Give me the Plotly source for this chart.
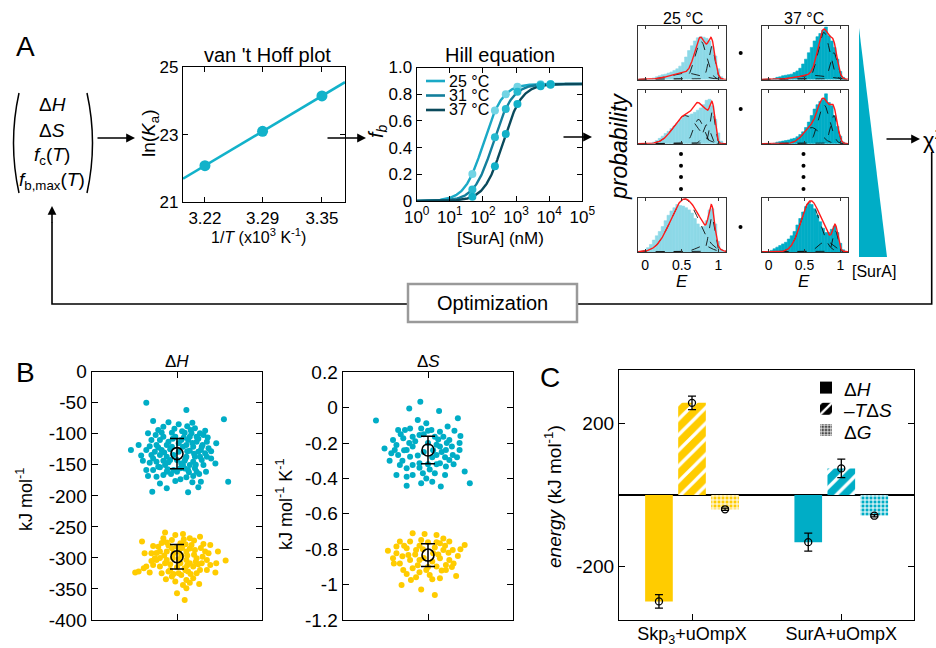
import numpy as np
import plotly.graph_objects as go

W, H = 936, 648
FONT = "Liberation Sans, Arial, Helvetica, sans-serif"
CYAN = "#00adc6"
LIGHT_CYAN = "#8dd9e7"
YELLOW = "#ffcc00"

# ---------------- data ----------------
# van 't Hoff
vh_invT = [3.224, 3.288, 3.354]
vh_invT_labels = ["3.22", "3.29", "3.35"]
vh_lnKa = [22.08, 23.10, 24.15]
VH_XRANGE = [3.1996, 3.3796]

# Hill equation
hill_conc = [48, 230, 490, 1100, 5500, 11000]
hill_fb_25 = [0.202, 0.677, 0.800, 0.856, 0.874, 0.876]
hill_fb_31 = [0.087, 0.477, 0.689, 0.819, 0.869, 0.874]
hill_fb_37 = [0.032, 0.260, 0.502, 0.727, 0.860, 0.870]
hill_temps = ["25 °C", "31 °C", "37 °C"]
hill_K = [105, 205, 403]
hill_n = [1.53, 1.52, 1.54]
hill_fmax = 0.877
hill_line_colors = ["#1aa9c6", "#137f9c", "#0a4a5c"]
hill_pt_colors = ["#72d4e4", "#25b9cf", "#12b0c8"]

# FRET efficiency histograms (bin centres, normalised heights)
hist_E = [0.00, 0.04, 0.08, 0.12, 0.16, 0.20, 0.24, 0.28, 0.32, 0.36, 0.40, 0.44, 0.48, 0.52,
          0.56, 0.60, 0.64, 0.68, 0.72, 0.76, 0.80, 0.84, 0.88, 0.92, 0.96, 1.00, 1.04, 1.08]
h25_top = [0, 0, 0.01, 0.03, 0.05, 0.07, 0.09, 0.1, 0.12, 0.14, 0.17, 0.2, 0.25, 0.32,
           0.42, 0.54, 0.63, 0.72, 0.78, 0.8, 0.79, 0.77, 0.72, 0.62, 0.44, 0.2, 0.05, 0]
h25_mid = [0, 0, 0.01, 0.03, 0.06, 0.1, 0.14, 0.19, 0.23, 0.28, 0.33, 0.38, 0.44, 0.49,
           0.52, 0.53, 0.55, 0.58, 0.62, 0.66, 0.72, 0.8, 0.82, 0.7, 0.45, 0.2, 0.05, 0]
h25_bot = [0.03, 0.08, 0.14, 0.22, 0.3, 0.38, 0.47, 0.58, 0.68, 0.76, 0.82, 0.88, 0.86, 0.85,
           0.82, 0.78, 0.72, 0.62, 0.52, 0.46, 0.47, 0.58, 0.78, 0.8, 0.52, 0.2, 0.05, 0]
h37_top = [0, 0, 0.02, 0.04, 0.05, 0.07, 0.08, 0.09, 0.1, 0.13, 0.16, 0.21, 0.29, 0.38,
           0.5, 0.6, 0.72, 0.8, 0.86, 0.92, 0.98, 0.82, 0.72, 0.6, 0.38, 0.15, 0.04, 0]
h37_mid = [0, 0, 0.01, 0.03, 0.04, 0.05, 0.06, 0.07, 0.09, 0.1, 0.13, 0.17, 0.22, 0.3,
           0.4, 0.52, 0.64, 0.72, 0.78, 0.82, 0.92, 0.76, 0.7, 0.52, 0.32, 0.14, 0.03, 0]
h37_bot = [0.01, 0.03, 0.06, 0.09, 0.12, 0.15, 0.18, 0.24, 0.3, 0.38, 0.5, 0.62, 0.74, 0.84,
           0.9, 0.88, 0.8, 0.68, 0.56, 0.44, 0.36, 0.36, 0.42, 0.48, 0.36, 0.16, 0.04, 0]
# Gaussian fit components: amplitudes, centres, widths
g25_top_amp, g25_top_mu, g25_top_sd = [0.12, 0.72, 0.62], [0.55, 0.76, 0.91], [0.2, 0.08, 0.045]
g25_mid_amp, g25_mid_mu, g25_mid_sd = [0.52, 0.45, 0.35, 0.62], [0.55, 0.73, 0.84, 0.92], [0.16, 0.07, 0.05, 0.035]
g25_bot_amp, g25_bot_mu, g25_bot_sd = [0.98, 0.12, 0.66], [0.54, 0.8, 0.91], [0.19, 0.1, 0.04]
g37_top_amp, g37_top_mu, g37_top_sd = [0.08, 0.88, 0.5], [0.6, 0.77, 0.91], [0.2, 0.08, 0.05]
g37_mid_amp, g37_mid_mu, g37_mid_sd = [0.3, 0.72, 0.52], [0.6, 0.77, 0.91], [0.12, 0.08, 0.05]
g37_bot_amp, g37_bot_mu, g37_bot_sd = [0.93, 0.2, 0.4], [0.58, 0.8, 0.93], [0.13, 0.1, 0.035]

# Panel B bootstrap clouds (jitter, value)
dH_SurA_pts = [(-0.36, -49.9), (0.11, -61.7), (0.55, -76.8), (-0.28, -79.4), (-0.10, -81.6), (0.18, -82.1),
    (0.02, -84.8), (-0.16, -88.6), (-0.22, -94.0), (-0.34, -99.3), (-0.06, -98.2), (0.09, -98.2), (0.21, -91.3),
    (0.27, -99.3), (-0.25, -102), (-0.16, -104.7), (-0.02, -104.7), (0.15, -104.7), (0.31, -102), (-0.30, -110),
    (-0.20, -110), (-0.10, -112.7), (0.05, -110), (0.23, -112.7), (0.35, -112.7), (0.46, -115.4), (-0.24, -118.1),
    (-0.12, -118.1), (0.11, -118.1), (0.19, -120.8), (0.29, -120.8), (0.37, -123.5), (-0.54, -126.2), (-0.36, -126.2),
    (-0.26, -128.8), (-0.18, -126.2), (-0.08, -125.1), (0.15, -127.2), (0.25, -128.8), (0.33, -131.5), (-0.30, -134.2),
    (-0.20, -134.2), (-0.12, -136.9), (0.11, -136.9), (0.21, -136.9), (0.35, -136.9), (-0.40, -143.3), (-0.32, -146.6),
    (-0.24, -145), (-0.16, -143.3), (-0.08, -142.3), (0.09, -143.3), (0.19, -145), (0.29, -142.3), (-0.36, -158.4),
    (-0.28, -158.4), (-0.20, -154), (-0.12, -161), (-0.04, -158.4), (0.04, -155.7), (0.13, -158.4), (0.23, -161),
    (0.34, -161), (-0.34, -168), (-0.24, -169.1), (-0.16, -166.4), (0.04, -173.4), (0.11, -170.2), (0.19, -168),
    (0.28, -177.2), (0.60, -177.2), (-0.12, -187.9), (-0.29, -193.3), (0.13, -194.4), (0.25, -186.3), (0.0, -161),
    (0.07, -150.3), (-0.22, -153), (0.02, -128.8), (-0.04, -134.2), (0.17, -99.3), (0.23, -104.7), (0.13, -110),
    (0.02, -115.4), (-0.06, -120.8), (0.07, -120.8), (0.27, -136.9), (0.0, -142.3), (-0.14, -150.3), (0.15, -150.3),
    (0.31, -150.3), (0.21, -155.7), (-0.05, -108), (0.08, -106), (0.18, -115), (-0.15, -130), (0.12, -128),
    (0.28, -126), (-0.1, -146), (0.05, -148), (0.2, -132), (0.1, -140), (-0.22, -122), (-0.03, -92), (0.3, -118),
    (0.14, -162), (-0.07, -165), (0.25, -108), (0.4, -140), (0.4, -128), (-0.42, -135), (-0.45, -118), (0.06, -96),
    (-0.18, -98), (0.33, -95), (0.12, -88), (-0.28, -140), (0.22, -150), (-0.02, -176), (0.18, -178), (-0.2, -180),
    (0.45, -148), (0.09, -156), (-0.11, -157), (0.26, -165), (-0.32, -120), (0.36, -106), (0.16, -94)]
dH_Skp_pts = [(-0.14, -259.2), (0.07, -261.4), (-0.41, -273.7), (-0.28, -280.7), (-0.16, -268.3), (-0.06, -271),
    (0.15, -268.3), (0.27, -265.7), (0.04, -276.4), (0.17, -279.1), (0.31, -277.5), (0.39, -279.1), (-0.38, -292.5),
    (-0.30, -292.5), (-0.20, -289.8), (0.11, -289.8), (0.21, -287.1), (0.33, -289.8), (0.48, -289.8), (-0.24, -303.2),
    (-0.12, -303.2), (0.11, -303.2), (0.23, -300.6), (0.35, -303.2), (-0.36, -314), (-0.28, -311.3), (-0.20, -314),
    (-0.14, -308.6), (0.15, -308.6), (0.29, -308.6), (0.39, -311.3), (0.46, -308.6), (0.57, -304.3), (-0.49, -323.6),
    (-0.39, -316.7), (-0.32, -323.6), (-0.08, -319.3), (0.02, -324.7), (0.13, -322), (0.27, -319.3), (0.35, -319.3),
    (0.45, -323.6), (-0.06, -330.1), (0.05, -327.4), (0.11, -335.5), (0.19, -332.8), (-0.13, -334.4), (-0.02, -338.1),
    (0.07, -343.5), (0.15, -339.8), (0.26, -341.9), (0.11, -348.9), (0.0, -356.9), (0.09, -367.7), (-0.45, -322),
    (-0.26, -300.6), (-0.04, -292.5), (0.04, -308.6), (0.09, -316.7), (-0.18, -324.7), (0.23, -324.7), (-0.06, -284.4),
    (0.02, -289.8), (-0.12, -289.8), (0.19, -314), (-0.22, -281.8), (0.37, -292.5), (-0.1, -280), (0.0, -282),
    (0.1, -278), (0.2, -295), (-0.05, -300), (0.05, -296), (0.15, -285), (-0.15, -296), (0.25, -310), (-0.08, -310),
    (0.0, -315), (0.12, -296), (-0.18, -276), (0.08, -270), (0.3, -298), (-0.02, -263), (0.2, -272), (-0.3, -305),
    (0.16, -326), (-0.1, -322), (0.06, -284), (-0.24, -292), (0.28, -284), (0.02, -302), (-0.04, -326), (0.12, -312),
    (0.22, -306), (-0.12, -275), (0.1, -320), (-0.2, -300)]
dS_SurA_pts = [(-0.09, 0.034), (-0.22, -0.004), (-0.61, -0.073), (0.35, -0.06), (0.13, -0.019), (-0.12, -0.07),
    (-0.02, -0.088), (-0.35, -0.126), (-0.27, -0.126), (-0.21, -0.117), (-0.08, -0.117), (0.04, -0.126), (0.14, -0.136),
    (0.23, -0.107), (0.31, -0.13), (-0.51, -0.23), (-0.41, -0.183), (-0.37, -0.211), (-0.29, -0.173), (-0.18, -0.164),
    (-0.10, -0.154), (0.08, -0.164), (0.18, -0.164), (0.25, -0.183), (0.37, -0.239), (-0.43, -0.258), (-0.35, -0.267),
    (-0.25, -0.239), (-0.18, -0.22), (0.14, -0.22), (0.21, -0.239), (0.29, -0.267), (-0.33, -0.324), (-0.25, -0.343),
    (-0.18, -0.324), (-0.10, -0.314), (0.14, -0.314), (0.25, -0.296), (-0.37, -0.38), (-0.25, -0.39), (-0.08, -0.427),
    (0.05, -0.418), (0.15, -0.446), (0.43, -0.361), (0.49, -0.427), (-0.39, -0.239), (-0.21, -0.277), (0.10, -0.267),
    (0.21, -0.333), (0.37, -0.2), (-0.18, -0.38), (-0.25, -0.441), (-0.06, -0.371), (0.08, -0.371), (0.0, -0.2),
    (0.1, -0.21), (-0.05, -0.25), (0.05, -0.28), (0.2, -0.28), (-0.12, -0.27), (0.0, -0.32), (-0.3, -0.3), (0.3, -0.32),
    (0.12, -0.18), (-0.15, -0.19), (0.28, -0.22), (-0.05, -0.15), (0.06, -0.24), (0.16, -0.25), (-0.22, -0.2),
    (0.34, -0.28), (-0.45, -0.3), (0.02, -0.35), (-0.28, -0.24), (0.22, -0.2), (-0.1, -0.34), (0.1, -0.32),
    (0.0, -0.13), (0.38, -0.16), (-0.02, -0.4), (0.2, -0.38), (-0.32, -0.15)]
dS_Skp_pts = [(-0.18, -0.71), (-0.04, -0.714), (0.10, -0.719), (-0.33, -0.757), (-0.21, -0.757), (-0.08, -0.748),
    (0.14, -0.766), (0.25, -0.757), (-0.47, -0.808), (-0.37, -0.823), (-0.25, -0.795), (-0.14, -0.804), (0.18, -0.804),
    (0.29, -0.804), (0.43, -0.776), (-0.41, -0.851), (-0.33, -0.88), (-0.21, -0.861), (-0.10, -0.861), (0.14, -0.851),
    (0.25, -0.861), (0.35, -0.838), (-0.29, -0.917), (-0.18, -0.908), (-0.02, -0.917), (0.10, -0.898), (0.21, -0.917),
    (0.33, -0.951), (-0.31, -1.002), (-0.20, -0.974), (-0.08, -1.027), (0.02, -0.945), (0.14, -0.964), (0.08, -1.059),
    (-0.14, -0.959), (-0.23, -0.833), (0.06, -0.823), (-0.37, -0.785), (0.21, -0.889), (0.0, -0.76), (-0.1, -0.78),
    (0.08, -0.79), (-0.05, -0.85), (0.05, -0.87), (0.2, -0.78), (-0.15, -0.83), (0.12, -0.83), (-0.28, -0.78),
    (0.3, -0.88), (0.0, -0.9), (-0.12, -0.89), (0.16, -0.92), (-0.25, -0.94), (0.24, -0.82), (-0.06, -0.8),
    (0.1, -0.76), (0.38, -0.8), (-0.4, -0.88), (0.05, -0.97), (-0.1, -0.93), (0.18, -0.74), (-0.3, -0.84), (0.28, -0.9)]
dH_means, dH_errs = [-132, -298], [24.5, 19.7]   # SurA, Skp
dS_means, dS_errs = [-0.239, -0.833], [0.078, 0.064]

# Panel C
c_groups = ["Skp<sub>3</sub>+uOmpX", "SurA+uOmpX"]
c_colors = [YELLOW, CYAN]
c_dH, c_dH_err = [-298, -132], [19, 25]
c_TdS, c_TdS_err = [258, 74.5], [19, 26]
c_dG, c_dG_err = [-40, -58], [3, 3]
c_names = ["Δ<i>H</i>", "–<i>T</i>Δ<i>S</i>", "Δ<i>G</i>"]

# ---------------- helpers ----------------
def px(x):
    return x / W

def py(y):
    return 1 - y / H

def dom(x0, x1, y0, y1):
    return [px(x0), px(x1)], [py(y1), py(y0)]

def xid(i):
    return "x" if i == 1 else f"x{i}"

def yid(i):
    return "y" if i == 1 else f"y{i}"

def key(c, i):
    return f"{c}axis" if i == 1 else f"{c}axis{i}"

def axstyle(**kw):
    d = dict(showline=True, linecolor="black", linewidth=1.3, mirror="ticks", ticks="inside",
             ticklen=5, tickwidth=1.2, tickcolor="black", showgrid=False, zeroline=False, automargin=False,
             tickfont=dict(family=FONT, size=17, color="black"))
    d.update(kw)
    return d

fig = go.Figure()
layout = {}
annotations = []
shapes = []

def add_axes(i, xd, yd, xkw, ykw):
    xdom, ydom = dom(*xd, *yd)
    layout[key("x", i)] = axstyle(domain=xdom, anchor=yid(i), **xkw)
    layout[key("y", i)] = axstyle(domain=ydom, anchor=xid(i), **ykw)

def text(x, y, s, size, angle=0, xanchor="center", color="black"):
    annotations.append(dict(x=px(x), y=py(y), xref="paper", yref="paper", text=s, showarrow=False,
                            font=dict(family=FONT, size=size, color=color), textangle=angle,
                            xanchor=xanchor, yanchor="middle"))

def arrow(x0, y0, x1, y1):
    annotations.append(dict(x=px(x1), y=py(y1), xref="paper", yref="paper", ax=x0 - x1, ay=y0 - y1,
                            axref="pixel", ayref="pixel", text="", showarrow=True, arrowhead=2,
                            arrowsize=1.1, arrowwidth=1.6, arrowcolor="black", standoff=0))

def pth(points, close=False):
    s = "M " + " L ".join(f"{px(a):.5f},{py(b):.5f}" for a, b in points)
    return s + (" Z" if close else "")

# ---------------- van 't Hoff ----------------
add_axes(1, (183, 345), (67.3, 202),
         dict(range=VH_XRANGE, tickvals=vh_invT, ticktext=vh_invT_labels),
         dict(range=[21, 25], tickvals=[21, 23, 25], ticktext=["21", "23", "25"]))
slope, icpt = np.polyfit(vh_invT, vh_lnKa, 1)
vx = np.array(VH_XRANGE)
fig.add_trace(go.Scatter(x=vx, y=slope * vx + icpt, mode="lines", line=dict(color="#12b2ca", width=2.6),
                         xaxis="x", yaxis="y", showlegend=False, cliponaxis=True))
fig.add_trace(go.Scatter(x=vh_invT, y=vh_lnKa, mode="markers", marker=dict(color="#12b2ca", size=11),
                         xaxis="x", yaxis="y", showlegend=False))

# ---------------- Hill ----------------
add_axes(2, (416.7, 582.3), (67.5, 201),
         dict(type="log", range=[0, 5], tickvals=[1, 10, 100, 1e3, 1e4, 1e5],
              ticktext=[f"10<sup>{k}</sup>" for k in range(6)]),
         dict(range=[0, 1], tickvals=[0, 0.2, 0.4, 0.6, 0.8, 1.0],
              ticktext=["0", "0.2", "0.4", "0.6", "0.8", "1.0"]))
cfine = np.logspace(0, 5, 250)
for k, fb in enumerate([hill_fb_25, hill_fb_31, hill_fb_37]):
    n, K = hill_n[k], hill_K[k]
    fig.add_trace(go.Scatter(x=cfine, y=hill_fmax * cfine ** n / (K ** n + cfine ** n), mode="lines",
                             line=dict(color=hill_line_colors[k], width=2.4), xaxis="x2", yaxis="y2",
                             showlegend=False))
for k, fb in enumerate([hill_fb_25, hill_fb_31, hill_fb_37]):
    fig.add_trace(go.Scatter(x=hill_conc, y=fb, mode="markers", marker=dict(color=hill_pt_colors[k], size=8),
                             xaxis="x2", yaxis="y2", showlegend=False))
for k, t in enumerate(hill_temps):
    yy = [81, 95.5, 110][k]
    shapes.append(dict(type="line", xref="paper", yref="paper", x0=px(426), x1=px(445), y0=py(yy), y1=py(yy),
                       line=dict(color=hill_line_colors[k], width=2.6)))
    text(447, yy, t, 16, xanchor="left")

# ---------------- histograms ----------------
E_fine = np.linspace(-0.1, 1.12, 300)
cols = {25: (638.3, 726, [-0.092, 1.105], LIGHT_CYAN), 37: (761.5, 848, [-0.1, 1.107], CYAN)}
rows = [(26, 79.5), (89.5, 143.8), (198, 252)]
panels = [
    (3, 25, 0, h25_top, g25_top_amp, g25_top_mu, g25_top_sd),
    (4, 25, 1, h25_mid, g25_mid_amp, g25_mid_mu, g25_mid_sd),
    (5, 25, 2, h25_bot, g25_bot_amp, g25_bot_mu, g25_bot_sd),
    (6, 37, 0, h37_top, g37_top_amp, g37_top_mu, g37_top_sd),
    (7, 37, 1, h37_mid, g37_mid_amp, g37_mid_mu, g37_mid_sd),
    (8, 37, 2, h37_bot, g37_bot_amp, g37_bot_mu, g37_bot_sd),
]
for i, temp, r, hv, amps, mus, sds in panels:
    x0, x1, xr, colr = cols[temp]
    y0, y1 = rows[r]
    add_axes(i, (x0, x1), (y0, y1),
             dict(range=xr, tickvals=[0, 0.5, 1], ticktext=["0", "0.5", "1"], ticklen=3,
                  showticklabels=(r == 2), linewidth=1, linecolor="#333", tickcolor="#333",
                  tickfont=dict(family=FONT, size=14, color="black")),
             dict(range=[0, 1.0], showticklabels=False, ticks="", linewidth=1, linecolor="#333",
                  mirror=True))
    fig.add_trace(go.Bar(x=hist_E, y=hv, width=0.04, marker=dict(color=colr, line=dict(width=0.6, color=colr)),
                         xaxis=xid(i), yaxis=yid(i), showlegend=False))
    total = np.zeros_like(E_fine)
    for a, m, s in zip(amps, mus, sds):
        comp = a * np.exp(-0.5 * ((E_fine - m) / s) ** 2)
        total += comp
        fig.add_trace(go.Scatter(x=E_fine, y=comp, mode="lines", line=dict(color="#111", width=0.9, dash="dash"),
                                 xaxis=xid(i), yaxis=yid(i), showlegend=False))
    fig.add_trace(go.Scatter(x=E_fine, y=total, mode="lines", line=dict(color="#ff1a1a", width=1.4),
                             xaxis=xid(i), yaxis=yid(i), showlegend=False))

# ---------------- panel B ----------------
add_axes(9, (91.7, 262.3), (371.7, 620),
         dict(range=[-1, 1], tickvals=[0], showticklabels=False, ticklen=6),
         dict(range=[-400, 0], tickvals=list(range(0, -401, -50)),
              ticktext=[str(v) for v in range(0, -401, -50)], ticklen=6,
              tickfont=dict(family=FONT, size=19, color="black")))
add_axes(10, (342.7, 513.3), (372.3, 620),
         dict(range=[-1, 1], tickvals=[0], showticklabels=False, ticklen=6),
         dict(range=[-1.2, 0.2], tickvals=[0.2, 0, -0.2, -0.4, -0.6, -0.8, -1, -1.2],
              ticktext=["0.2", "0", "-0.2", "-0.4", "-0.6", "-0.8", "-1", "-1.2"], ticklen=6,
              tickfont=dict(family=FONT, size=19, color="black")))
for i, pts_list, means, errs in [(9, [dH_SurA_pts, dH_Skp_pts], dH_means, dH_errs),
                                 (10, [dS_SurA_pts, dS_Skp_pts], dS_means, dS_errs)]:
    for pts, colr in zip(pts_list, [CYAN, YELLOW]):
        fig.add_trace(go.Scatter(x=[p[0] for p in pts], y=[p[1] for p in pts], mode="markers",
                                 marker=dict(color=colr, size=6), xaxis=xid(i), yaxis=yid(i), showlegend=False))
    fig.add_trace(go.Scatter(x=[0, 0], y=means, mode="markers",
                             marker=dict(symbol="circle-open", size=12, color="black", line=dict(width=1.6)),
                             error_y=dict(type="data", array=errs, color="black", thickness=1.5, width=7),
                             xaxis=xid(i), yaxis=yid(i), showlegend=False))

# ---------------- panel C ----------------
BAR_GAP, BAR_GROUP_GAP = 0.336, 0.163
add_axes(11, (619, 914.3), (370, 620),
         dict(range=[-0.489, 1.489], tickvals=[0, 1], ticktext=c_groups, mirror=True, ticklen=6,
              ticklabelstandoff=-3, tickfont=dict(family=FONT, size=18, color="black")),
         dict(range=[-350, 350], tickvals=[-200, 200], ticktext=["-200", "200"], ticklen=6,
              zeroline=True, zerolinecolor="black", zerolinewidth=1.6,
              tickfont=dict(family=FONT, size=19, color="black")))

def pattern(kind):
    if kind == 0:
        return dict(shape="")
    if kind == 1:
        return dict(shape="/", fgcolor="white", fgopacity=1, size=11, solidity=0.3, fillmode="overlay")
    return dict(shape="+", fgcolor="white", fgopacity=1, size=4, solidity=0.45, fillmode="overlay")

c_measures = [(c_dH, c_dH_err), (c_TdS, c_TdS_err), (c_dG, c_dG_err)]
slot = (1 - BAR_GAP) / 3
for k, (vals, errs) in enumerate(c_measures):
    for g in range(2):
        fig.add_trace(go.Bar(x=[g], y=[vals[g]],
                             marker=dict(color=c_colors[g], line=dict(width=0), pattern=pattern(k)),
                             xaxis="x11", yaxis="y11", showlegend=False, offsetgroup=str(k)))
for k, (vals, errs) in enumerate(c_measures):
    xs = [g + (k - 1) * slot for g in range(2)]
    fig.add_trace(go.Scatter(x=xs, y=vals, mode="markers",
                             marker=dict(symbol="circle-open", size=7, color="black", line=dict(width=1.3)),
                             error_y=dict(type="data", array=errs, color="black", thickness=1.3, width=4),
                             xaxis="x11", yaxis="y11", showlegend=False))
# legend swatches (hidden axis); labels are annotations
layout["xaxis12"] = dict(domain=[0, 0.001], anchor="y12", visible=False, automargin=False)
layout["yaxis12"] = dict(domain=[0, 0.001], anchor="x12", visible=False, automargin=False)
leg_colors = ["black", "black", "#444444"]
for k in range(3):
    fig.add_trace(go.Bar(x=[0], y=[0], name=" " * (k + 1),
                         marker=dict(color=leg_colors[k], line=dict(width=0), pattern=pattern(k)),
                         xaxis="x12", yaxis="y12", showlegend=True))
for k, nm in enumerate(c_names):
    text(842, [389, 410, 432][k], nm, 19, xanchor="left")

# ---------------- decorations ----------------
text(25, 47, "A", 28)
text(25, 372, "B", 28)
text(550, 377, "C", 28)

# parameter vector
text(52, 105, "Δ<i>H</i>", 19)
text(52, 130, "Δ<i>S</i>", 19)
text(52, 156, "<i>f</i><sub>c</sub>(<i>T</i>)", 19)
text(52, 181, "<i>f</i><sub>b,max</sub>(<i>T</i>)", 19)
shapes.append(dict(type="path", xref="paper", yref="paper",
                   path=f"M {px(19):.5f},{py(93):.5f} Q {px(8):.5f},{py(143):.5f} {px(19):.5f},{py(193):.5f}",
                   line=dict(color="black", width=1.5)))
shapes.append(dict(type="path", xref="paper", yref="paper",
                   path=f"M {px(87):.5f},{py(93):.5f} Q {px(98):.5f},{py(143):.5f} {px(87):.5f},{py(193):.5f}",
                   line=dict(color="black", width=1.5)))

text(267, 55, "van 't Hoff plot", 20)
text(150, 133, "ln(<i>K</i><sub>a</sub>)", 19, angle=-90)
text(258, 236, "1/<i>T</i> (x10<sup>3</sup> K<sup>-1</sup>)", 16)
text(500, 55, "Hill equation", 20)
text(377, 131, "<i>f<sub>b</sub></i>", 20, angle=-90)
text(500, 238, "[SurA] (nM)", 17)

text(683, 18, "25 °C", 16)
text(804, 18, "37 °C", 16)
text(619, 147, "<i>probability</i>", 23, angle=-90)
text(682, 281, "<i>E</i>", 17)
text(804, 281, "<i>E</i>", 17)
text(874, 271, "[SurA]", 16)
text(921, 139, "χ<sup>2</sup>", 22, xanchor="left")
shapes.append(dict(type="path", xref="paper", yref="paper", path=pth([(859, 28), (859, 257), (887, 257)], True),
                   fillcolor=CYAN, line=dict(width=0)))
for (cx, cy) in [(740.7, 53), (740.7, 109), (740.5, 227),
                 (681, 154), (681, 165.7), (681, 177), (681, 189),
                 (803.5, 154), (803.5, 165.7), (803.5, 177), (803.5, 189)]:
    shapes.append(dict(type="circle", xref="paper", yref="paper", x0=px(cx - 2), x1=px(cx + 2),
                       y0=py(cy + 2), y1=py(cy - 2), fillcolor="black", line=dict(width=0)))

arrow(96, 138, 135, 138)
arrow(326, 138, 366, 138)
arrow(562, 137, 592, 137)
arrow(885, 139, 920, 139)
shapes.append(dict(type="path", xref="paper", yref="paper",
                   path=pth([(931.7, 152), (931.7, 304), (52, 304), (52, 222)]),
                   line=dict(color="black", width=1.6)))
arrow(52, 224, 52, 206)
shapes.append(dict(type="rect", xref="paper", yref="paper", x0=px(408), x1=px(577), y0=py(322), y1=py(284),
                   fillcolor="white", line=dict(color="#9a9a9a", width=2.5)))
text(492, 303, "Optimization", 20)

text(177, 361, "Δ<i>H</i>", 17)
text(428, 361, "Δ<i>S</i>", 17)
text(24, 500, "kJ mol<sup>-1</sup>", 18, angle=-90)
text(284, 505, "kJ mol<sup>-1</sup> K<sup>-1</sup>", 18, angle=-90)
text(553, 497, "<i>energy</i> (kJ mol<sup>-1</sup>)", 19, angle=-90)

layout.update(dict(
    width=W, height=H, margin=dict(l=0, r=0, t=0, b=0, pad=0, autoexpand=False),
    paper_bgcolor="white", plot_bgcolor="white",
    font=dict(family=FONT, color="black"), barmode="group", bargap=BAR_GAP, bargroupgap=BAR_GROUP_GAP,
    showlegend=True,
    legend=dict(x=px(806), y=py(372), xanchor="left", yanchor="top", bgcolor="rgba(0,0,0,0)",
                font=dict(family=FONT, size=14, color="black"), tracegroupgap=0, traceorder="normal"),
    annotations=annotations, shapes=shapes,
))
fig.update_layout(layout)
fig.write_html("out.html", include_plotlyjs=True, config={"displayModeBar": False},
               post_script="document.body.style.margin='0px';document.body.style.overflow='hidden';")
